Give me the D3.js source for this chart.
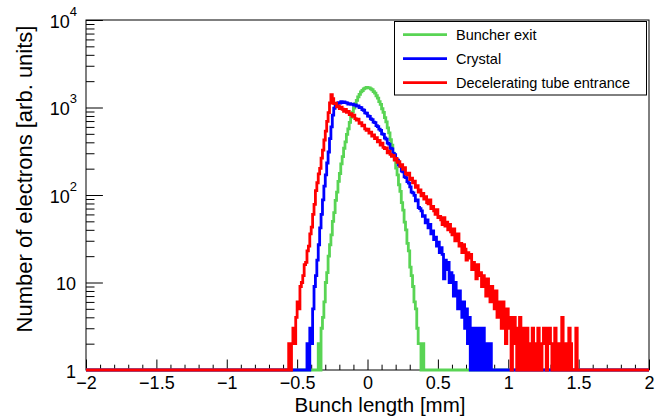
<!DOCTYPE html>
<html>
<head>
<meta charset="utf-8">
<script src="https://cdn.jsdelivr.net/npm/d3@7"></script>
<style>
  body { margin: 0; background: #fff; }
  svg { display: block; }
  text { font-family: "Liberation Sans", Arial, Helvetica, sans-serif; fill: #000; }
</style>
</head>
<body>
<svg id="chart" width="662" height="418"></svg>
<script>
// Histogram binning (mm)
const binWidth = 0.01;
const xDomain = [-2, 2];
const yDomain = [1, 1e4];

// Axis ticks and labels
const xTickValues = [-2, -1.5, -1, -0.5, 0, 0.5, 1, 1.5, 2];
const xTickLabels = ["\u22122", "\u22121.5", "\u22121", "\u22120.5", "0", "0.5", "1", "1.5", "2"];
const yTickValues = [1, 10, 100, 1000, 10000];
const yTickBases = ["1", "10", "10", "10", "10"];
const yTickExponents = ["", "", "2", "3", "4"];

// Series
const seriesNames = ["Buncher exit", "Crystal", "Decelerating tube entrance"];
const seriesColors = ["#59d454", "#0000ff", "#ff0000"];

// Bin contents; each list starts at the lower edge given by *Start, bins outside are empty
const buncherStart = -0.40;
const buncherCounts = [
  0, 0, 1, 0, 1, 2, 1, 3, 4, 6,
  10, 13, 20, 27, 35, 50, 63, 87, 108, 143,
  176, 227, 275, 342, 405, 492, 571, 675, 770, 886,
  987, 1108, 1205, 1322, 1409, 1506, 1565, 1634, 1662, 1692,
  1685, 1676, 1631, 1596, 1520, 1459, 1362, 1281, 1170, 1084,
  968, 879, 768, 686, 585, 514, 428, 371, 301, 256,
  203, 170, 131, 110, 82, 67, 49, 40, 28, 23,
  15, 12, 9, 6, 5, 3, 2, 2, 1, 2, 0
];

const crystalStart = -0.45;
const crystalCounts = [
  1, 0, 2, 1, 3, 2, 5, 9, 12, 18,
  27, 42, 60, 88, 126, 170, 232, 310, 440, 600,
  820, 980, 1050, 1075, 1135, 1125, 1170, 1140, 1155, 1135,
  1130, 1095, 1110, 1085, 1095, 1065, 1070, 1040, 1045, 1000,
  995, 945, 930, 870, 860, 800, 790, 740, 725, 680,
  670, 620, 605, 565, 548, 500, 492, 448, 436, 392,
  382, 342, 336, 298, 290, 256, 250, 220, 214, 188,
  184, 161, 158, 142, 137, 124, 108, 106, 99, 86,
  88, 72, 70, 66, 57, 58, 48, 52, 42, 46,
  36, 39, 31, 33, 26, 29, 22, 25, 21, 11,
  18, 14, 17, 10, 13, 12, 7, 10, 8, 5,
  8, 6, 4, 6, 3, 5, 2, 4, 1, 3,
  1, 3, 2, 0, 3, 1, 2, 3, 1, 0,
  2, 1, 2, 0, 1
];

const tubeStart = -0.58;
const tubeCounts = [
  1, 0, 2, 1, 2, 3, 2, 4, 6, 5,
  9, 10, 12, 16, 17, 23, 26, 36, 43, 60,
  78, 112, 138, 174, 201, 264, 326, 425, 536, 695,
  875, 1125, 1400, 1260, 1110, 1120, 1020, 1045, 970, 1010,
  955, 905, 950, 880, 905, 830, 850, 790, 815, 745,
  720, 735, 660, 672, 615, 628, 570, 548, 566, 510,
  524, 470, 486, 440, 452, 405, 420, 372, 392, 350,
  338, 346, 304, 318, 292, 276, 284, 250, 262, 236,
  240, 212, 222, 196, 205, 176, 170, 178, 150, 156,
  138, 144, 122, 128, 108, 114, 98, 104, 90, 96,
  82, 79, 88, 70, 74, 66, 60, 68, 55, 57,
  52, 46, 55, 44, 49, 40, 46, 38, 35, 41,
  30, 33, 36, 26, 28, 22, 27, 24, 18, 22,
  19, 21, 14, 17, 15, 11, 16, 12, 13, 9,
  12, 10, 7, 11, 8, 6, 9, 7, 5, 8,
  4, 6, 5, 3, 6, 4, 2, 5, 3, 4,
  1, 3, 4, 2, 1, 3, 4, 1, 2, 3,
  1, 3, 0, 2, 1, 3, 1, 2, 0, 3,
  1, 1, 2, 3, 3, 0, 2, 3, 2, 0,
  1, 3, 1, 0, 2, 1, 4, 1, 0, 2,
  1, 3, 2, 1, 0, 1, 3, 1
];

const seriesStarts = [buncherStart, crystalStart, tubeStart];
const seriesCounts = [buncherCounts, crystalCounts, tubeCounts];

// Layout
const W = 662, H = 418;
const plotLeft = 86, plotRight = 649, plotTop = 20, plotBottom = 370;
const font = '"Liberation Sans", Arial, Helvetica, sans-serif';

const svg = d3.select("#chart");
svg.append("rect").attr("width", W).attr("height", H).attr("fill", "#fff");

const x = d3.scaleLinear().domain(xDomain).range([plotLeft, plotRight]);
const y = d3.scaleLog().domain(yDomain).range([plotBottom, plotTop]).clamp(true);

// Frame
svg.append("rect")
  .attr("x", plotLeft).attr("y", plotTop)
  .attr("width", plotRight - plotLeft).attr("height", plotBottom - plotTop)
  .attr("fill", "none").attr("stroke", "#000").attr("stroke-width", 1);

// X axis: minor ticks every 0.1, major every 0.5, pointing into the frame
const xMinor = d3.range(-20, 21).map(d => d / 10)
  .filter(d => Math.abs(d * 2 - Math.round(d * 2)) > 1e-9);
svg.append("g").attr("transform", `translate(0,${plotBottom})`)
  .call(d3.axisBottom(x).tickValues(xMinor).tickSize(-5.3).tickFormat(""))
  .call(g => g.select(".domain").remove());
const xAxisG = svg.append("g").attr("transform", `translate(0,${plotBottom})`)
  .call(d3.axisBottom(x).tickValues(xTickValues).tickSize(-10.5).tickPadding(6)
    .tickFormat((d, i) => xTickLabels[i]))
  .call(g => g.select(".domain").remove());
xAxisG.attr("font-size", 18).attr("font-family", font);

// Y axis: decades with 2..9 minor ticks
const yMinor = [];
[1, 10, 100, 1000].forEach(dec => { for (let k = 2; k <= 9; k++) yMinor.push(k * dec); });
svg.append("g").attr("transform", `translate(${plotLeft},0)`)
  .call(d3.axisLeft(y).tickValues(yMinor).tickSize(-8.5).tickFormat(""))
  .call(g => g.select(".domain").remove());
const yAxisG = svg.append("g").attr("transform", `translate(${plotLeft},0)`)
  .call(d3.axisLeft(y).tickValues(yTickValues).tickSize(-16.9).tickFormat(""))
  .call(g => g.select(".domain").remove());

yAxisG.selectAll(".tick").each(function (d, i) {
  const g = d3.select(this);
  g.select("text").remove();
  const exp = yTickExponents[i];
  const t = g.append("text")
    .attr("x", exp ? -9 : -10)
    .attr("y", 7)
    .attr("text-anchor", "end")
    .attr("font-size", 18)
    .attr("font-family", font)
    .attr("fill", "#000");
  t.append("tspan").text(yTickBases[i]);
  if (exp) {
    t.append("tspan").attr("dy", -12).attr("font-size", 13).text(exp);
  }
});

// Axis titles
svg.append("text")
  .attr("x", 380).attr("y", 412)
  .attr("text-anchor", "middle")
  .attr("font-size", 20.5)
  .text("Bunch length [mm]");

svg.append("text")
  .attr("transform", "translate(32,179) rotate(-90)")
  .attr("text-anchor", "middle")
  .attr("font-size", 22)
  .text("Number of electrons [arb. units]");

// Histograms: full-range bin tables, empty bins sit on the axis minimum
const nBins = Math.round((xDomain[1] - xDomain[0]) / binWidth);
const stepLine = d3.line()
  .x(d => x(d[0]))
  .y(d => y(Math.max(d[1], yDomain[0])))
  .curve(d3.curveStepAfter);

seriesCounts.forEach((counts, s) => {
  const full = new Array(nBins).fill(0);
  const offset = Math.round((seriesStarts[s] - xDomain[0]) / binWidth);
  counts.forEach((c, i) => { full[offset + i] = c; });
  const pts = full.map((c, i) => [xDomain[0] + i * binWidth, c]);
  pts.push([xDomain[1], full[nBins - 1]]);
  svg.append("path")
    .datum(pts)
    .attr("d", stepLine)
    .attr("fill", "none")
    .attr("stroke", seriesColors[s])
    .attr("stroke-width", 2.8)
    .attr("stroke-linejoin", "miter");
});

// Legend
const legend = svg.append("g");
legend.append("rect")
  .attr("x", 394.5).attr("y", 21.5)
  .attr("width", 252).attr("height", 73.5)
  .attr("fill", "#fff").attr("stroke", "#000").attr("stroke-width", 1);
seriesNames.forEach((name, i) => {
  const ly = 34.7 + i * 24;
  legend.append("line")
    .attr("x1", 403).attr("x2", 447)
    .attr("y1", ly).attr("y2", ly)
    .attr("stroke", seriesColors[i]).attr("stroke-width", 2.8);
  legend.append("text")
    .attr("x", 456).attr("y", ly + 5.3)
    .attr("font-size", 14.5)
    .text(name);
});
</script>
</body>
</html>
